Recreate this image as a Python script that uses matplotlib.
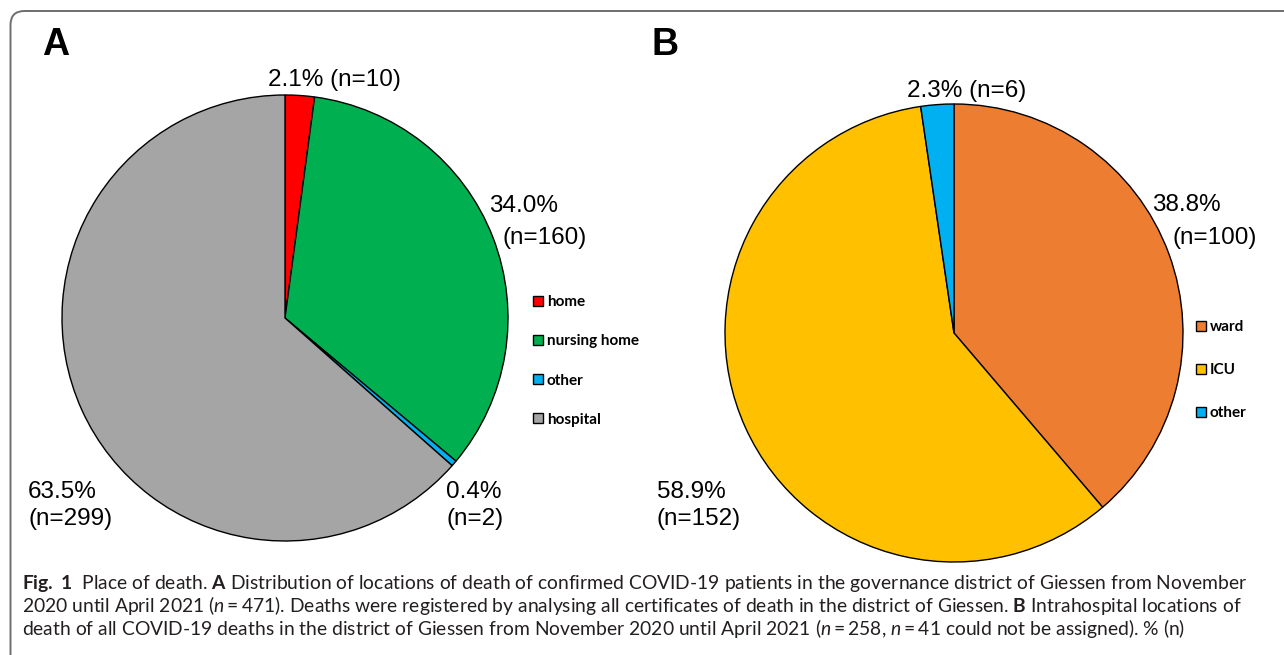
import matplotlib
matplotlib.use("Agg")
import matplotlib.pyplot as plt
from matplotlib.patches import FancyBboxPatch

W, H = 1284, 655

# panel A: place of death
places_a = ["home", "nursing home", "other", "hospital"]
counts_a = [10, 160, 2, 299]
colors_a = ["#FF0000", "#00B050", "#00B0F0", "#A5A5A5"]

# panel B: intrahospital location
places_b = ["ward", "ICU", "other"]
counts_b = [100, 152, 6]
colors_b = ["#ED7D31", "#FFC000", "#00B0F0"]

caption = [
    r"$\mathbf{Fig.\ 1}$  Place of death. $\mathbf{A}$ Distribution of locations of death of confirmed COVID-19 patients in the governance district of Giessen from November",
    r"2020 until April 2021 ($n=471$). Deaths were registered by analysing all certificates of death in the district of Giessen. $\mathbf{B}$ Intrahospital locations of",
    r"death of all COVID-19 deaths in the district of Giessen from November 2020 until April 2021 ($n=258$, $n=41$ could not be assigned). % (n)",
]

plt.rcParams["mathtext.fontset"] = "custom"
plt.rcParams["mathtext.rm"] = "Lato"
plt.rcParams["mathtext.it"] = "Lato:italic"
plt.rcParams["mathtext.bf"] = "Lato:bold"


def py(y):
    # pixel row (from top) -> data y
    return H - y


def make_labels(counts):
    total = sum(counts)
    return [(f"{100 * c / total:.1f}%", f"(n={c})") for c in counts]


fig = plt.figure(figsize=(W / 100, H / 100), dpi=100)
ax = fig.add_axes([0, 0, 1, 1])

wp = dict(edgecolor="black", linewidth=1.0)
wedges_a, _ = ax.pie(counts_a, colors=colors_a, startangle=90, counterclock=False,
                     center=(285, py(318)), radius=223, frame=True, wedgeprops=wp)
wedges_b, _ = ax.pie(counts_b, colors=colors_b, startangle=90, counterclock=False,
                     center=(954, py(333)), radius=229, frame=True, wedgeprops=wp)
ax.set_xlim(0, W)
ax.set_ylim(0, H)
ax.axis("off")

# outer rounded frame
ax.add_patch(FancyBboxPatch((10.5, -300), 1500, py(11) + 300,
                            boxstyle="round,pad=0,rounding_size=14",
                            facecolor="none", edgecolor="#6e6e6e", linewidth=1.4))

# slice labels (left x, baseline) per line
pos_a = [[(268, 86)], [(489, 212), (503, 244)], [(446, 498), (446, 525)], [(28, 498), (28, 525)]]
pos_b = [[(1152, 211), (1172, 244)], [(657, 498), (657, 525)], [(907, 97)]]
lab_font = dict(family="Liberation Sans", fontsize=17.5, color="black")
for labels, positions in [(make_labels(counts_a), pos_a), (make_labels(counts_b), pos_b)]:
    for lab, pos in zip(labels, positions):
        lines = [" ".join(lab)] if len(pos) == 1 else list(lab)
        for txt, (x, y) in zip(lines, pos):
            ax.text(x, py(y), txt, ha="left", va="baseline", **lab_font)

# panel letters
ax.text(42, py(55), "A", family="Liberation Sans", fontweight="bold", fontsize=27, va="baseline")
ax.text(652, py(55), "B", family="Liberation Sans", fontweight="bold", fontsize=27, va="baseline")

# legends
leg_kw = dict(loc="center left", bbox_transform=ax.transData, frameon=False,
              prop=dict(family="Lato", weight="bold", size=11), handlelength=0.65,
              handleheight=0.65, handletextpad=0.25, borderpad=0, borderaxespad=0)
leg_a = ax.legend(wedges_a, places_a, bbox_to_anchor=(533, py(361)), labelspacing=1.64, **leg_kw)
ax.add_artist(leg_a)
ax.legend(wedges_b, places_b, bbox_to_anchor=(1196, py(370)), labelspacing=1.9, **leg_kw)

# caption
cap_texts = []
for i, line in enumerate(caption):
    t = ax.text(22, py(589 + 23 * i), line, family="Lato", fontsize=12, color="#231f20",
                ha="left", va="baseline")
    cap_texts.append(t)
fig.canvas.draw()
r = fig.canvas.get_renderer()
w1 = cap_texts[0].get_window_extent(r).width
for t in cap_texts:
    t.set_fontsize(12 * 1225 / w1)

fig.savefig("out.png", dpi=100)
